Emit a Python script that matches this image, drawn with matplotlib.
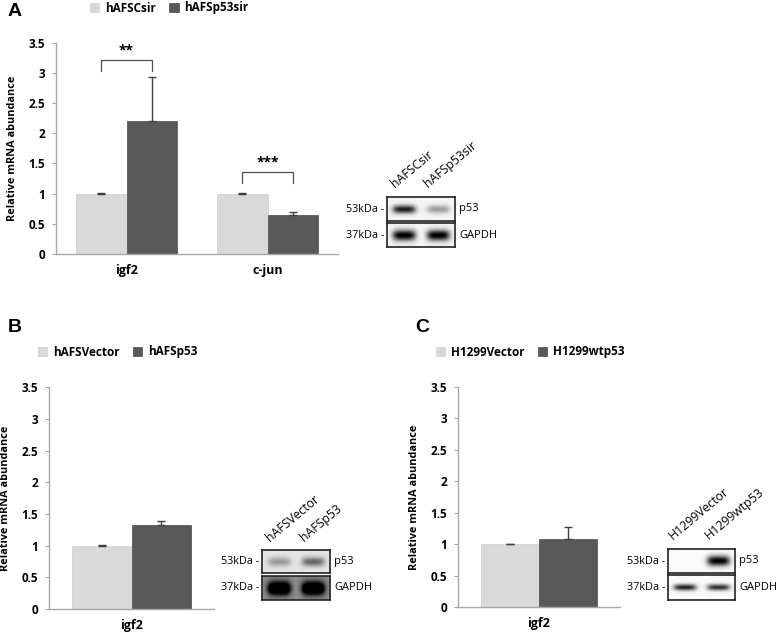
import numpy as np
import matplotlib
matplotlib.use('Agg')
from matplotlib import pyplot as plt

W, H = 777, 638
LIGHT = '#d9d9d9'
DARK = '#595959'
AXIS = '#a6a6a6'
FONT = ['Open Sans', 'DejaVu Sans']

# ---- panel A data
genes_a = ['igf2', 'c-jun']
ctrl_a = [1.0, 1.0]
ctrl_a_err = [0.01, 0.01]
treat_a = [2.2, 0.65]
treat_a_err = [0.74, 0.04]
legend_a = ['hAFSCsir', 'hAFSp53sir']
stars_a = ['**', '***']
bracket_a = [(3.03, 3.22), (1.18, 1.36)]

# ---- panel B data
genes_b = ['igf2']
ctrl_b = [1.0]
ctrl_b_err = [0.01]
treat_b = [1.33]
treat_b_err = [0.06]
legend_b = ['hAFSVector', 'hAFSp53']

# ---- panel C data
genes_c = ['igf2']
ctrl_c = [1.0]
ctrl_c_err = [0.01]
treat_c = [1.08]
treat_c_err = [0.2]
legend_c = ['H1299Vector', 'H1299wtp53']

# western blot band intensities (lane1, lane2)
blot_a = {'p53': [0.85, 0.35], 'GAPDH': [1.0, 1.0]}
blot_b = {'p53': [0.3, 0.5], 'GAPDH': [1.0, 1.0]}
blot_c = {'p53': [0.0, 1.0], 'GAPDH': [0.85, 0.8]}

plt.rcParams['font.family'] = FONT


def px_axes(fig, x0, y0, x1, y1):
    return fig.add_axes([x0 / W, 1 - y1 / H, (x1 - x0) / W, (y1 - y0) / H])


def bar_panel(fig, box, cats, ctrl, ctrl_err, treat, treat_err, labels, leg_xy):
    ax = px_axes(fig, *box)
    x = np.arange(len(cats))
    w = 0.36
    b1 = ax.bar(x - w / 2, ctrl, w, color=LIGHT, edgecolor='#cccccc', lw=0.5)
    b2 = ax.bar(x + w / 2, treat, w, color=DARK, edgecolor='#4a4a4a', lw=0.5)
    for xs, ys, es in [(x - w / 2, ctrl, ctrl_err), (x + w / 2, treat, treat_err)]:
        ax.errorbar(xs, ys, yerr=[np.zeros(len(ys)), es], fmt='none',
                    ecolor='#404040', elinewidth=1, capsize=3, capthick=1)
    ax.set_xlim(-0.5, len(cats) - 0.5)
    ax.set_ylim(0, 3.5)
    ticks = np.arange(0, 3.51, 0.5)
    ax.set_yticks(ticks)
    ax.set_yticklabels(['%g' % t for t in ticks], fontweight='bold', fontsize=8.5)
    ax.set_xticks(x)
    ax.set_xticklabels(cats, fontweight='bold', fontsize=9)
    ax.tick_params(axis='x', length=0, pad=7)
    ax.tick_params(axis='y', length=3, color=AXIS, pad=5)
    for s in ['top', 'right']:
        ax.spines[s].set_visible(False)
    for s in ['left', 'bottom']:
        ax.spines[s].set_color(AXIS)
        ax.spines[s].set_linewidth(1)
    ax.set_ylabel('Relative mRNA abundance', fontweight='bold', fontsize=7.8, labelpad=7)
    fig.legend([b1, b2], labels, loc='center left',
               bbox_to_anchor=(leg_xy[0] / W, 1 - leg_xy[1] / H),
               ncol=2, frameon=False, borderpad=0, borderaxespad=0,
               handlelength=0.8, handleheight=0.8, handletextpad=0.5,
               columnspacing=1.1, prop={'weight': 'bold', 'size': 8.5})
    return ax, x, w


def band_row(fig, box, vals, bg, thick):
    ax = px_axes(fig, *box)
    h, wd = 40, 120
    yy, xx = np.mgrid[0:h, 0:wd]
    img = np.full((h, wd), bg)
    for i, v in enumerate(vals):
        cx = wd * (0.25 + 0.5 * i)
        band = np.exp(-((xx - cx) / (wd * 0.17)) ** 4 - ((yy - h / 2) / (h * thick)) ** 2)
        img = img + v * band
    img = np.clip(img, 0, 1)
    ax.imshow(img, cmap='gray_r', vmin=0, vmax=1, aspect='auto', interpolation='bilinear')
    ax.set_xticks([])
    ax.set_yticks([])
    for s in ax.spines.values():
        s.set_color('#222222')
        s.set_linewidth(1.2)
    return ax


def blot(fig, x0, x1, rows, blot_vals, bgs, thick, lanes, lane_xy):
    names = ['p53', 'GAPDH']
    kda = ['53kDa -', '37kDa -']
    for (y0, y1), name, k, bg, t in zip(rows, names, kda, bgs, thick):
        band_row(fig, (x0, y0, x1, y1), blot_vals[name], bg, t)
        yc = 1 - (y0 + y1) / 2 / H
        fig.text((x0 - 3) / W, yc, k, ha='right', va='center', fontsize=7.8)
        fig.text((x1 + 4) / W, yc, name, ha='left', va='center', fontsize=8)
    for lab, (lx, ly) in zip(lanes, lane_xy):
        fig.text(lx / W, 1 - ly / H, lab, rotation=40, ha='left', va='bottom',
                 rotation_mode='anchor', fontsize=8.8)


fig = plt.figure(figsize=(7.77, 6.38), dpi=100)

# ---- A
ax, x, w = bar_panel(fig, (56, 42.7, 338, 254), genes_a, ctrl_a, ctrl_a_err,
                     treat_a, treat_a_err, legend_a, (90, 8))
for xi, st, (lo, hi) in zip(x, stars_a, bracket_a):
    ax.plot([xi - w / 2, xi - w / 2, xi + w / 2, xi + w / 2], [lo, hi, hi, lo],
            color='#505050', lw=0.9)
    ax.text(xi, hi + 0.04, st, ha='center', va='bottom', fontsize=10, fontweight='bold')
fig.text(8 / W, 1 - 12 / H, 'A', fontsize=14, fontweight='bold',
         family='Liberation Sans', va='center')
blot(fig, 387, 455, [(197, 221), (223, 247)], blot_a, [0.04, 0.04], [0.17, 0.22],
     legend_a, [(397, 190), (430, 190)])

# ---- B
bar_panel(fig, (49, 387.3, 214, 609), genes_b, ctrl_b, ctrl_b_err,
          treat_b, treat_b_err, legend_b, (38, 352))
fig.text(8 / W, 1 - 328 / H, 'B', fontsize=14, fontweight='bold',
         family='Liberation Sans', va='center')
blot(fig, 262, 330, [(550, 573), (576, 600)], blot_b, [0.1, 0.45], [0.2, 0.28],
     legend_b, [(272, 544), (306, 544)])

# ---- C
bar_panel(fig, (458, 387, 620, 607), genes_c, ctrl_c, ctrl_c_err,
          treat_c, treat_c_err, legend_c, (436, 352))
fig.text(415 / W, 1 - 328 / H, 'C', fontsize=14, fontweight='bold',
         family='Liberation Sans', va='center')
blot(fig, 668, 735, [(549, 573), (575, 600)], blot_c, [0.02, 0.02], [0.2, 0.12],
     legend_c, [(675, 542), (711, 542)])

fig.savefig('out.png', dpi=100)
